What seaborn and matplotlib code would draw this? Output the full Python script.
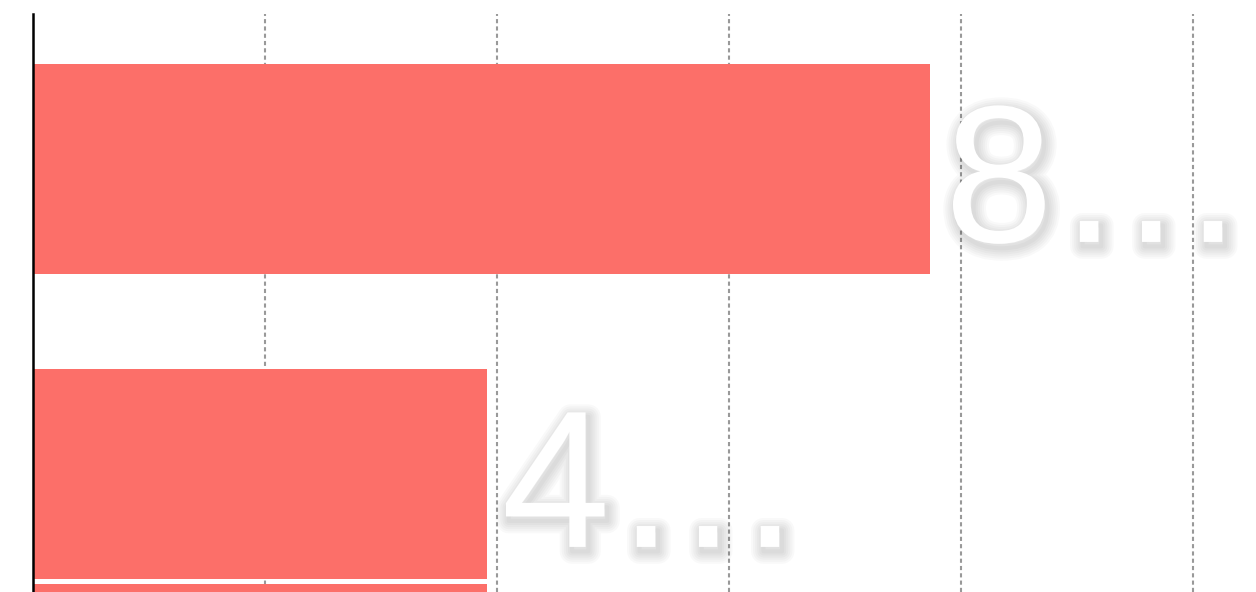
import matplotlib
matplotlib.use("Agg")
import matplotlib.pyplot as plt
import matplotlib.patheffects as pe
import seaborn as sns
import pandas as pd

# ---- data ----
categories = ["A", "B", "B"]
groups = ["g1", "g1", "g2"]
values = [3.866, 1.957, 1.957]
bar_labels = ["8\u2026", "4\u2026", ""]
grid_ticks = [1, 2, 3, 4, 5]

BAR_COLOR = "#FC6F69"

sns.set_theme(style="white")
plt.rcParams["font.family"] = ["Liberation Sans", "DejaVu Sans"]

df = pd.DataFrame({"category": categories, "group": groups, "value": values,
                   "label": bar_labels})

W, H, DPI = 1256, 592, 100
fig = plt.figure(figsize=(W / DPI, H / DPI), dpi=DPI)
ax = fig.add_axes([33 / W, 0, 1 - 33 / W, (H - 14) / H])

sns.barplot(data=df, x="value", y="category", hue="group", orient="h",
            dodge=True, width=1.41, gap=0.023, saturation=1,
            palette=[BAR_COLOR, BAR_COLOR], legend=False, linewidth=0,
            errorbar=None, ax=ax)

ax.set_xlim(0, 5.27)
ax.set_ylim(1.0344, -0.8607)
ax.set_xticks(grid_ticks)
ax.tick_params(axis="both", length=0, labelbottom=False, labelleft=False)
ax.set_xlabel("")
ax.set_ylabel("")
ax.set_axisbelow(True)
ax.xaxis.grid(True, color="#999999", linestyle=(0, (2, 1.5)), linewidth=1.5)
ax.yaxis.grid(False)
for s in ["top", "right", "bottom"]:
    ax.spines[s].set_visible(False)
ax.spines["left"].set_color("black")
ax.spines["left"].set_linewidth(1.8)

shadow = [pe.Stroke(offset=(2.0, -3.2), linewidth=lw, foreground="black",
                    alpha=0.022) for lw in (18, 15, 12, 9, 6, 3)]
shadow.append(pe.Normal())

# labels, in the order bars appear in containers
lab_map = {(c, g): l for c, g, l in zip(categories, groups, bar_labels)}
cats_order = list(dict.fromkeys(categories))
groups_order = list(dict.fromkeys(groups))
for gi, cont in enumerate(ax.containers):
    present = [c for c in cats_order if (c, groups_order[gi]) in lab_map]
    for patch, c in zip(cont.patches, present):
        txt = lab_map[(c, groups_order[gi])]
        if not txt:
            continue
        w = patch.get_width()
        yc = patch.get_y() + patch.get_height() / 2
        ax.annotate(txt, xy=(w, yc),
                    xytext=(10.3, -52.5), textcoords="offset points",
                    ha="left", va="baseline", fontsize=140.8, color="white",
                    path_effects=shadow, annotation_clip=False)

fig.savefig("out.png", dpi=DPI)
